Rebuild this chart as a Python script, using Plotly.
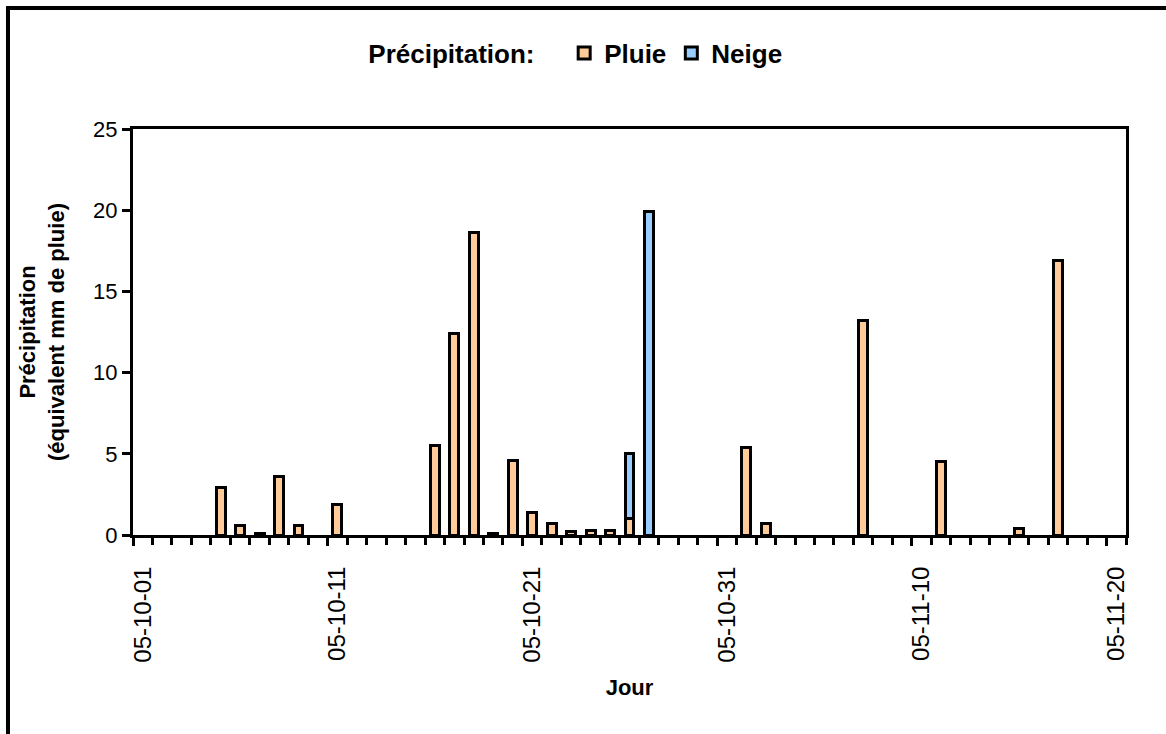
import plotly.graph_objects as go

# ---- data ----
pluie_dates = ["2005-10-05", "2005-10-06", "2005-10-07", "2005-10-08", "2005-10-09",
               "2005-10-11", "2005-10-16", "2005-10-17", "2005-10-18", "2005-10-19",
               "2005-10-20", "2005-10-21", "2005-10-22", "2005-10-23", "2005-10-24",
               "2005-10-25", "2005-10-26", "2005-11-01", "2005-11-02", "2005-11-07",
               "2005-11-11", "2005-11-15", "2005-11-17"]
pluie_values = [2.9, 0.6, 0.1, 3.6, 0.6,
                1.9, 5.5, 12.4, 18.6, 0.1,
                4.6, 1.4, 0.7, 0.2, 0.3,
                0.3, 1.0, 5.4, 0.7, 13.2,
                4.5, 0.4, 16.9]
neige_dates = ["2005-10-26", "2005-10-27"]
neige_values = [4.0, 19.9]

tick_dates = ["2005-10-01", "2005-10-11", "2005-10-21", "2005-10-31", "2005-11-10", "2005-11-20"]
tick_labels = ["05-10-01", "05-10-11", "05-10-21", "05-10-31", "05-11-10", "05-11-20"]
major_tick_dates = ["2005-09-30 12:00", "2005-10-10 12:00", "2005-10-20 12:00",
                    "2005-10-30 12:00", "2005-11-09 12:00", "2005-11-19 12:00"]
x_range = ["2005-09-30 12:00", "2005-11-20 12:00"]

DAY = 86400000
FONT = "Liberation Sans, Arial, sans-serif"

fig = go.Figure()
fig.add_trace(go.Bar(
    x=pluie_dates, y=pluie_values, name="Pluie",
    width=[0.46 * DAY] * len(pluie_dates),
    marker=dict(color="#FFCC99", line=dict(color="black", width=3)),
))
fig.add_trace(go.Bar(
    x=neige_dates, y=neige_values, name="Neige",
    width=[0.46 * DAY] * len(neige_dates),
    marker=dict(color="#99CCFF", line=dict(color="black", width=3)),
))
# helper trace so the overlaid major-tick axis is drawn
fig.add_trace(go.Scatter(x=[], y=[], xaxis="x2", showlegend=False, hoverinfo="skip"))

fig.update_layout(
    width=1166, height=734,
    margin=dict(l=133, r=40, t=129, b=199),
    paper_bgcolor="white", plot_bgcolor="white",
    barmode="stack",
    font=dict(family=FONT, color="black"),
    showlegend=True,
    legend=dict(
        orientation="h", traceorder="normal",
        x=0.447, xanchor="center",
        y=1.187, yanchor="middle",
        title=dict(text="Précipitation:   ", side="left",
                   font=dict(size=26, weight="bold", family=FONT)),
        font=dict(size=26, weight="bold", family=FONT),
        itemwidth=30,
        bgcolor="rgba(0,0,0,0)",
    ),
    xaxis=dict(
        type="date", range=x_range,
        tickvals=tick_dates, ticktext=tick_labels,
        tickangle=-90, ticks="",
        ticklabelstandoff=19,
        tickfont=dict(size=24, family=FONT),
        showgrid=False, zeroline=False,
        showline=True, linewidth=3, linecolor="black", mirror=True,
        minor=dict(ticks="outside", ticklen=7, tickwidth=3, tickcolor="black",
                   dtick=DAY, tick0="2005-09-30 12:00", showgrid=False),
        title=dict(text="Jour", font=dict(size=22, weight="bold", family=FONT), standoff=18),
        automargin=False,
    ),
    xaxis2=dict(
        type="date", range=x_range, overlaying="x", anchor="y", side="bottom",
        tickvals=major_tick_dates, ticks="outside", ticklen=10, tickwidth=3,
        tickcolor="black", showticklabels=False, showgrid=False, zeroline=False,
        showline=False,
    ),
    yaxis=dict(
        range=[0, 25], dtick=5, ticks="outside", ticklen=8, tickwidth=3,
        tickcolor="black",
        tickfont=dict(size=22, family=FONT),
        showgrid=False, zeroline=False,
        showline=True, linewidth=3, linecolor="black", mirror=True,
        title=dict(text="Précipitation<br>(équivalent mm de pluie)",
                   font=dict(size=22, weight="bold", family=FONT), standoff=23),
        automargin=False,
    ),
    shapes=[dict(type="rect", xref="paper", yref="paper",
                 x0=-0.1259, x1=1.2, y0=-1.0, y1=1.298,
                 line=dict(color="black", width=4), fillcolor="rgba(0,0,0,0)",
                 layer="above")],
)

fig.write_html("out.html")
